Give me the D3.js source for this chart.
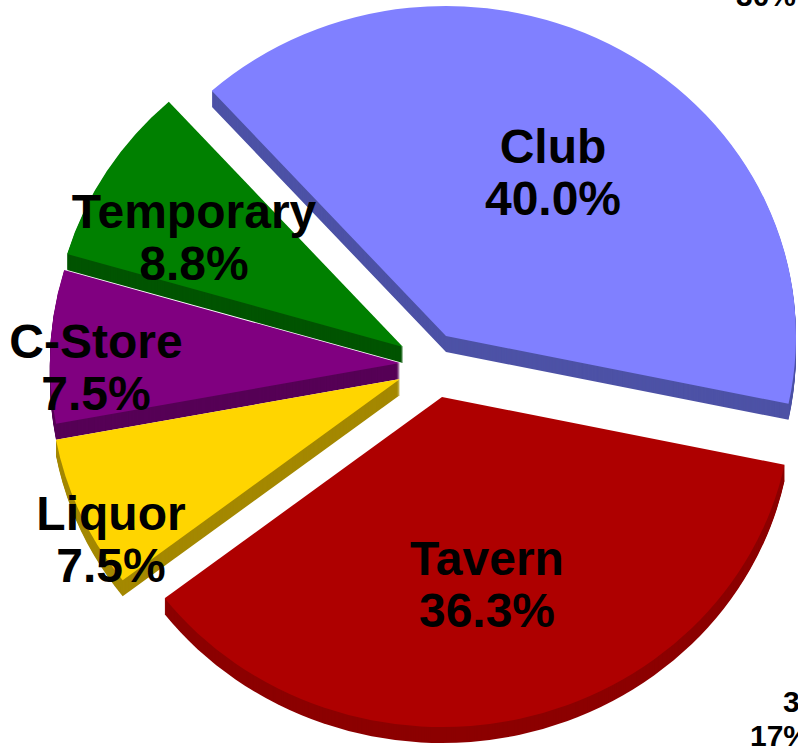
<!DOCTYPE html>
<html>
<head>
<meta charset="utf-8">
<script src="https://cdn.jsdelivr.net/npm/d3@7"></script>
<style>
  html, body { margin: 0; padding: 0; background: #fff; overflow: hidden; }
  text { font-family: "Liberation Sans", Arial, sans-serif; font-weight: bold; fill: #000; }
</style>
</head>
<body>
<div id="chart"></div>
<script>
// data
const categories = ["Club", "Tavern", "Liquor", "C-Store", "Temporary"];
const shares = [40.0, 36.3, 7.5, 7.5, 8.8];

// looks
const topColors = ["#8080ff", "#ae0000", "#ffd500", "#800080", "#008000"];
const sideColors = ["#4d52a6", "#8c0000", "#a48800", "#560056", "#005400"];

const width = 798, height = 746;
const center = [400, 365];
const rx = 350, ry = 330;   // pie is seen a bit from above
const depth = 16;           // thickness of the slab
// how far each slice is pulled out of the pie
const explode = [[46, -29], [42, 32], [0, 14], [0, -2], [3, -18]];
// where the two label lines sit (first baseline)
const labelAt = [[553, 163], [487, 575], [111, 530], [96, 358], [194, 228]];
const lineGap = 52;

const svg = d3.select("#chart").append("svg")
    .attr("width", width)
    .attr("height", height);

const pie = d3.pie()
    .sort(null)
    .startAngle(318 * Math.PI / 180)
    .endAngle((318 + 360) * Math.PI / 180);

const arcs = pie(shares);
const arc = d3.arc().innerRadius(0).outerRadius(rx);
const squash = ry / rx;

// back to front so nearer slices cover the sides of the ones behind
const order = [0, 4, 3, 2, 1];

order.forEach(i => {
    const d = arcs[i];
    const ax = center[0] + explode[i][0];
    const ay = center[1] + explode[i][1];
    const g = svg.append("g").attr("class", "slice");
    // side of the slab
    for (let k = depth; k >= 1; k--) {
        g.append("path")
            .attr("d", arc(d))
            .attr("transform", `translate(${ax},${ay + k}) scale(1,${squash})`)
            .attr("fill", sideColors[i]);
    }
    // top face
    g.append("path")
        .attr("d", arc(d))
        .attr("transform", `translate(${ax},${ay}) scale(1,${squash})`)
        .attr("fill", topColors[i]);
});

// labels
const fmt = d3.format(".1f");
arcs.forEach((d, i) => {
    const t = svg.append("text")
        .attr("text-anchor", "middle")
        .style("font-size", "48px");
    t.append("tspan").attr("x", labelAt[i][0]).attr("y", labelAt[i][1]).text(categories[i]);
    t.append("tspan").attr("x", labelAt[i][0]).attr("y", labelAt[i][1] + lineGap).text(fmt(shares[i]) + "%");
});

// bits of the neighbouring chart that stick into the frame
svg.append("text").attr("x", 736).attr("y", 6).style("font-size", "30px").text("30%");
svg.append("text").attr("x", 783).attr("y", 712).style("font-size", "30px").text("3");
svg.append("text").attr("x", 750).attr("y", 746).style("font-size", "30px").text("17%");
</script>
</body>
</html>
